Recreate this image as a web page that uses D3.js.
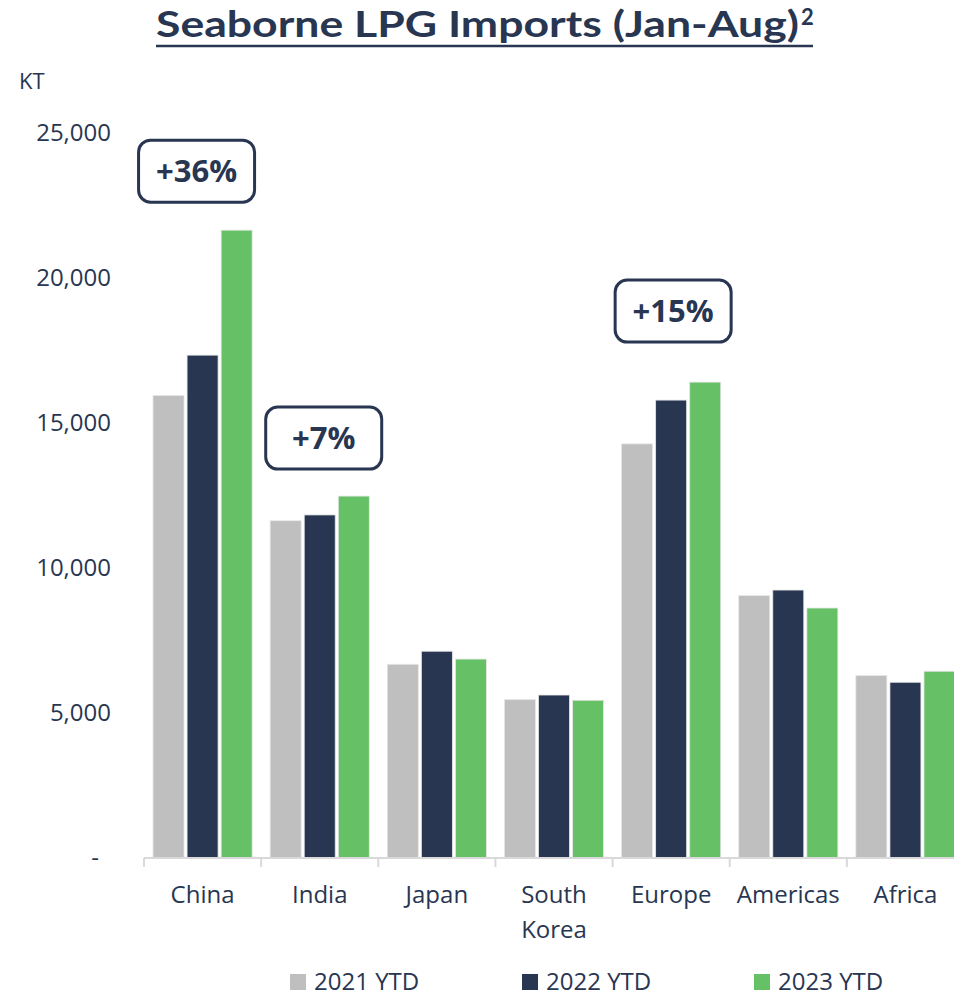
<!DOCTYPE html>
<html>
<head>
<meta charset="utf-8">
<script src="https://cdn.jsdelivr.net/npm/d3@7"></script>
<style>
  html, body { margin: 0; padding: 0; background: #fff; }
  svg { display: block; }
</style>
</head>
<body>
<script>
// Seaborne LPG imports by region, Jan-Aug, thousand tonnes
const categories = ["China", "India", "Japan", "South Korea", "Europe", "Americas", "Africa"];
const seriesNames = ["2021 YTD", "2022 YTD", "2023 YTD"];
const ytd2021 = [15950, 11630, 6680, 5460, 14280, 9050, 6290];
const ytd2022 = [17340, 11830, 7130, 5620, 15790, 9240, 6060];
const ytd2023 = [21650, 12480, 6860, 5440, 16410, 8620, 6440];
const yTicks = [0, 5000, 10000, 15000, 20000, 25000];
const growthCategories = ["China", "India", "Europe"];
const growthLabels = ["+36%", "+7%", "+15%"];

const W = 954, H = 998;
const navy = "#283651";
const colors = { "2021 YTD": "#bfbfbf", "2022 YTD": navy, "2023 YTD": "#66c166" };
const font = "'Open Sans', 'Noto Sans', sans-serif";

const seriesValues = [ytd2021, ytd2022, ytd2023];
const rows = categories.map((c, i) => ({
  category: c,
  values: seriesNames.map((s, j) => ({ series: s, value: seriesValues[j][i] }))
}));

const svg = d3.select("body").append("svg")
  .attr("width", W).attr("height", H)
  .style("overflow", "hidden");

const x = d3.scaleBand().domain(categories).range([144, 964]).padding(0);
const bw = x.bandwidth();
const xSub = d3.scaleBand().domain(seriesNames).range([9, bw - 9]).paddingInner(0.09).paddingOuter(0);
const y = d3.scaleLinear().domain([0, 25000]).range([858, 133]);

// Title
const title = svg.append("text")
  .attr("x", 156).attr("y", 37)
  .attr("fill", navy)
  .style("font-family", "Lato, 'Open Sans', sans-serif")
  .style("font-weight", "700")
  .style("font-size", "37px");
title.append("tspan")
  .attr("textLength", 643)
  .attr("lengthAdjust", "spacingAndGlyphs")
  .text("Seaborne LPG Imports (Jan-Aug)");
svg.append("text")
  .attr("x", 801).attr("y", 25)
  .attr("fill", navy)
  .style("font-family", "Lato, 'Open Sans', sans-serif")
  .style("font-weight", "700")
  .style("font-size", "22px")
  .text("2");
svg.append("line")
  .attr("x1", 156).attr("x2", 813)
  .attr("y1", 46).attr("y2", 46)
  .attr("stroke", navy).attr("stroke-width", 2.5);

// Unit label
svg.append("text")
  .attr("x", 19).attr("y", 89)
  .attr("fill", navy)
  .style("font-family", font)
  .style("font-size", "22px")
  .text("KT");

// Y axis (labels only)
const yAxis = d3.axisLeft(y)
  .tickValues(yTicks)
  .tickSize(0)
  .tickPadding(8)
  .tickFormat(d => d === 0 ? "-" : d3.format(",")(d));
const gy = svg.append("g").attr("transform", "translate(119,0)").call(yAxis);
gy.select(".domain").remove();
gy.selectAll("text")
  .attr("fill", navy)
  .style("font-family", font)
  .style("font-size", "24px")
  .attr("dx", d => d === 0 ? -12 : 0);

// Bars
const groups = svg.append("g").selectAll("g")
  .data(rows).join("g")
  .attr("transform", d => `translate(${x(d.category)},0)`);
groups.selectAll("rect")
  .data(d => d.values).join("rect")
  .attr("x", d => xSub(d.series))
  .attr("width", xSub.bandwidth())
  .attr("y", d => y(d.value))
  .attr("height", d => y(0) - y(d.value))
  .attr("fill", d => colors[d.series])
  .attr("stroke", "#e6e6e6")
  .attr("stroke-width", 0.8);

// X axis baseline with boundary ticks
const gx = svg.append("g");
gx.append("line")
  .attr("x1", x.range()[0]).attr("x2", x.range()[1])
  .attr("y1", y(0)).attr("y2", y(0))
  .attr("stroke", "#d9d9d9").attr("stroke-width", 2);
gx.selectAll("line.tick")
  .data(categories.concat(["end"])).join("line")
  .attr("class", "tick")
  .attr("x1", (d, i) => x.range()[0] + i * x.step())
  .attr("x2", (d, i) => x.range()[0] + i * x.step())
  .attr("y1", y(0)).attr("y2", y(0) + 9)
  .attr("stroke", "#d9d9d9").attr("stroke-width", 2);

// Category labels
const xAxis = d3.axisBottom(x).tickSize(0).tickPadding(0);
const gxl = svg.append("g").attr("transform", `translate(0,${y(0)})`).call(xAxis);
gxl.select(".domain").remove();
gxl.selectAll("text")
  .attr("fill", navy)
  .style("font-family", font)
  .style("font-size", "24px")
  .attr("y", 0).attr("dy", null)
  .each(function(d) {
    const t = d3.select(this);
    const words = d.split(" ");
    t.text(null);
    words.forEach((w, i) => {
      t.append("tspan").attr("x", 0).attr("y", 45 + i * 35).text(w);
    });
  });

// Growth call-outs above selected groups
const calloutLayout = { "China": { dx: -6, gap: 28 }, "India": { dx: 4, gap: 27 }, "Europe": { dx: 2, gap: 40 } };
const boxW = 116, boxH = 62;
growthCategories.forEach((c, i) => {
  const row = rows.find(r => r.category === c);
  const top = d3.max(row.values, v => v.value);
  const lay = calloutLayout[c];
  const cx = x(c) + bw / 2 + lay.dx;
  const bottom = y(top) - lay.gap;
  const g = svg.append("g");
  g.append("rect")
    .attr("x", cx - boxW / 2).attr("y", bottom - boxH)
    .attr("width", boxW).attr("height", boxH)
    .attr("rx", 12).attr("ry", 12)
    .attr("fill", "#fff")
    .attr("stroke", navy).attr("stroke-width", 3);
  g.append("text")
    .attr("x", cx).attr("y", bottom - boxH / 2 + 11)
    .attr("text-anchor", "middle")
    .attr("fill", navy)
    .style("font-family", font)
    .style("font-weight", "700")
    .style("font-size", "31px")
    .text(growthLabels[i]);
});

// Legend
const legend = svg.append("g").selectAll("g")
  .data(seriesNames).join("g")
  .attr("transform", (d, i) => `translate(${290 + i * 232},974)`);
legend.append("rect")
  .attr("width", 16).attr("height", 16)
  .attr("fill", d => colors[d]);
legend.append("text")
  .attr("x", 24).attr("y", 16)
  .attr("fill", navy)
  .style("font-family", font)
  .style("font-size", "24px")
  .text(d => d);
</script>
</body>
</html>
